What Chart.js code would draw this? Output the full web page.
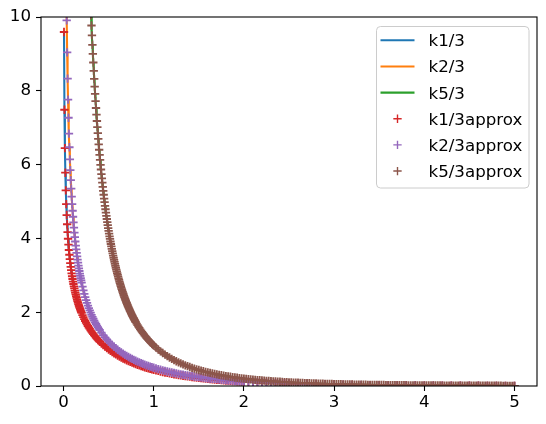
<!DOCTYPE html>
<html><head><meta charset="utf-8">
<script src="https://cdn.jsdelivr.net/npm/chart.js@4.4.1/dist/chart.umd.min.js"></script>
<style>html,body{margin:0;padding:0;background:#fff;}canvas{display:block;}</style>
</head><body>
<canvas id="c" width="546" height="424" style="width:546px;height:424px"></canvas>
<script>
const xTicks = [0, 1, 2, 3, 4, 5];
const yTicks = [0, 2, 4, 6, 8, 10];
const labels = ['k1/3', 'k2/3', 'k5/3', 'k1/3approx', 'k2/3approx', 'k5/3approx'];

// sample positions for k1/3 and k2/3
const xA = [0.005,0.01,0.015,0.02,0.025,0.03,0.035,0.04,0.045,0.05,0.055,0.06,0.065,0.07,0.075,0.08,0.085,0.09,0.095,0.1,
0.105,0.11,0.115,0.12,0.125,0.13,0.135,0.14,0.145,0.15,0.155,0.16,0.165,0.17,0.175,0.18,0.185,0.19,0.195,0.2,
0.21,0.22,0.23,0.24,0.25,0.26,0.27,0.28,0.29,0.3,0.31,0.32,0.33,0.34,0.35,0.36,0.37,0.38,0.39,0.4,
0.42,0.44,0.46,0.48,0.5,0.52,0.54,0.56,0.58,0.6,0.62,0.64,0.66,0.68,0.7,0.72,0.74,0.76,0.78,0.8,0.82,0.84,0.86,0.88,0.9,0.92,0.94,0.96,0.98,
1.0,1.025,1.05,1.075,1.1,1.125,1.15,1.175,1.2,1.225,1.25,1.275,1.3,1.325,1.35,1.375,1.4,1.425,1.45,1.475,
1.5,1.525,1.55,1.575,1.6,1.625,1.65,1.675,1.7,1.725,1.75,1.775,1.8,1.825,1.85,1.875,1.9,1.925,1.95,1.975,2.0,
2.05,2.1,2.15,2.2,2.25,2.3,2.35,2.4,2.45,2.5,
2.6,2.7,2.8,2.9,3.0,3.1,3.2,3.3,3.4,3.5,3.6,3.7,3.8,3.9,4.0,4.1,4.2,4.3,4.4,4.5,4.6,4.7,4.8,4.9,5.0];

const k13 = [9.593,7.486,6.446,5.780,5.301,4.931,4.633,4.384,4.171,3.991,3.830,3.686,3.557,3.439,3.330,3.231,3.140,3.054,2.974,2.900,
2.830,2.764,2.702,2.643,2.587,2.533,2.483,2.434,2.388,2.343,2.300,2.259,2.220,2.182,2.145,2.110,2.076,2.042,2.010,1.979,
1.920,1.864,1.812,1.762,1.714,1.669,1.626,1.585,1.546,1.509,1.473,1.438,1.405,1.373,1.343,1.313,1.284,1.257,1.230,1.206,
1.157,1.111,1.068,1.028,0.989,0.953,0.919,0.886,0.855,0.825,0.797,0.770,0.745,0.720,0.697,0.674,0.653,0.632,0.613,0.593,0.575,0.558,0.541,0.525,0.509,0.494,0.479,0.466,0.452,
0.438,0.423,0.408,0.394,0.380,0.367,0.354,0.342,0.330,0.319,0.308,0.298,0.288,0.278,0.269,0.260,0.252,0.243,0.235,0.228,
0.220,0.212,0.206,0.199,0.193,0.187,0.181,0.175,0.170,0.164,0.159,0.154,0.150,0.145,0.141,0.136,0.132,0.128,0.124,0.120,0.117,
0.109,0.103,0.097,0.091,0.086,0.081,0.076,0.072,0.067,0.064,
0.056,0.050,0.045,0.040,0.035,0.031,0.028,0.025,0.022,0.020,0.018,0.016,0.014,0.013,0.011,0.010,0.009,0.008,0.007,0.0065,0.0058,0.0052,0.0046,0.0042,0.0037];

const k23 = [36.72,23.10,17.60,14.50,12.46,11.01,9.91,9.04,8.33,7.76,7.27,6.84,6.47,6.14,5.85,5.58,5.35,5.13,4.93,4.75,
4.587,4.433,4.290,4.157,4.033,3.916,3.806,3.703,3.606,3.513,3.426,3.342,3.264,3.188,3.117,3.048,2.983,2.920,2.860,2.802,
2.693,2.592,2.498,2.411,2.329,2.252,2.180,2.112,2.048,1.987,1.929,1.874,1.822,1.773,1.725,1.680,1.637,1.595,1.555,1.517,
1.446,1.379,1.317,1.260,1.206,1.156,1.109,1.064,1.022,0.983,0.946,0.910,0.877,0.845,0.815,0.786,0.759,0.733,0.708,0.684,0.661,0.640,0.619,0.599,0.579,0.561,0.544,0.527,0.510,
0.495,0.476,0.458,0.441,0.425,0.409,0.394,0.380,0.366,0.353,0.341,0.329,0.317,0.306,0.295,0.285,0.276,0.266,0.257,0.249,
0.240,0.233,0.226,0.218,0.211,0.204,0.197,0.191,0.185,0.179,0.173,0.167,0.162,0.157,0.152,0.147,0.142,0.138,0.133,0.129,0.125,
0.117,0.110,0.104,0.097,0.091,0.086,0.081,0.076,0.072,0.067,
0.060,0.053,0.047,0.042,0.037,0.033,0.029,0.026,0.023,0.021,0.0185,0.0165,0.0147,0.0132,0.0117,0.0105,0.0094,0.0084,0.0075,0.0067,0.0060,0.0054,0.0048,0.0043,0.0038];

// sample positions for k5/3
const xB = [0.27,0.275,0.28,0.285,0.29,0.295,0.3,0.305,0.31,0.315,0.32,0.325,0.33,0.335,0.34,0.345,0.35,0.355,0.36,0.365,0.37,0.375,0.38,0.385,0.39,0.395,0.4,0.405,0.41,0.415,0.42,0.425,0.43,0.435,0.44,0.445,0.45,0.455,0.46,0.465,0.47,0.475,0.48,0.485,0.49,0.495,
0.5,0.505,0.51,0.515,0.52,0.525,0.53,0.535,0.54,0.545,0.55,0.555,0.56,0.565,0.57,0.575,0.58,0.585,0.59,0.595,
0.6,0.605,0.61,0.615,0.62,0.625,0.63,0.635,0.64,0.645,0.65,0.655,0.66,0.665,0.67,0.675,0.68,0.685,0.69,0.695,
0.7,0.705,0.71,0.715,0.72,0.725,0.73,0.735,0.74,0.745,0.75,0.755,0.76,0.765,0.77,0.775,0.78,0.785,0.79,0.795,
0.8,0.81,0.82,0.83,0.84,0.85,0.86,0.87,0.88,0.89,0.9,0.91,0.92,0.93,0.94,0.95,0.96,0.97,0.98,0.99,
1.0,1.025,1.05,1.075,1.1,1.125,1.15,1.175,1.2,1.225,1.25,1.275,1.3,1.325,1.35,1.375,1.4,1.425,1.45,1.475,
1.5,1.525,1.55,1.575,1.6,1.625,1.65,1.675,1.7,1.725,1.75,1.775,1.8,1.825,1.85,1.875,1.9,1.925,1.95,1.975,
2.0,2.025,2.05,2.075,2.1,2.125,2.15,2.175,2.2,2.225,2.25,2.275,2.3,2.325,2.35,2.375,2.4,2.425,2.45,2.475,
2.5,2.525,2.55,2.575,2.6,2.625,2.65,2.675,2.7,2.725,2.75,2.775,2.8,2.825,2.85,2.875,2.9,2.925,2.95,2.975,
3.0,3.025,3.05,3.075,3.1,3.125,3.15,3.175,3.2,3.225,3.25,3.275,3.3,3.325,3.35,3.375,3.4,3.425,3.45,3.475,
3.5,3.525,3.55,3.575,3.6,3.625,3.65,3.675,3.7,3.725,3.75,3.775,3.8,3.825,3.85,3.875,3.9,3.925,3.95,3.975,
4.0,4.025,4.05,4.075,4.1,4.125,4.15,4.175,4.2,4.225,4.25,4.275,4.3,4.325,4.35,4.375,4.4,4.425,4.45,4.475,
4.5,4.525,4.55,4.575,4.6,4.625,4.65,4.675,4.7,4.725,4.75,4.775,4.8,4.825,4.85,4.875,4.9,4.925,4.95,4.975,5.0];

const k53 = [12.391,12.008,11.642,11.293,10.960,10.642,10.338,10.048,9.770,9.503,9.247,9.002,8.767,8.541,8.324,8.115,7.914,7.721,7.534,7.354,7.182,7.015,6.854,6.698,6.548,6.402,6.262,6.126,5.995,5.867,5.744,5.625,5.509,5.397,5.288,5.183,5.080,4.981,4.884,4.790,4.699,4.611,4.526,4.441,4.359,4.280,
4.203,4.130,4.057,3.986,3.916,3.848,3.782,3.718,3.656,3.594,3.534,3.476,3.419,3.364,3.310,3.257,3.205,3.154,3.105,3.057,
3.009,2.963,2.918,2.874,2.831,2.788,2.747,2.706,2.667,2.628,2.590,2.552,2.516,2.480,2.445,2.411,2.377,2.344,2.311,2.280,
2.249,2.218,2.188,2.159,2.130,2.101,2.074,2.046,2.020,1.993,1.967,1.942,1.918,1.893,1.868,1.845,1.822,1.799,1.776,1.754,
1.733,1.691,1.650,1.611,1.573,1.535,1.500,1.465,1.432,1.399,1.367,1.337,1.307,1.278,1.250,1.223,1.197,1.171,1.146,1.122,
1.098,1.042,0.989,0.940,0.894,0.851,0.811,0.773,0.737,0.703,0.671,0.641,0.613,0.586,0.561,0.537,0.514,0.492,0.472,0.452,
0.434,0.416,0.399,0.383,0.368,0.354,0.340,0.327,0.314,0.302,0.291,0.280,0.269,0.259,0.250,0.240,0.231,0.223,0.215,0.207,
0.1995,0.1922,0.185,0.1788,0.173,0.1665,0.161,0.1551,0.150,0.1446,0.140,0.1349,0.131,0.1259,0.122,0.1176,0.114,0.1099,0.106,0.1027,
0.099,0.0960,0.093,0.0898,0.087,0.0841,0.081,0.0787,0.076,0.0737,0.071,0.0691,0.067,0.0647,0.063,0.0607,0.059,0.0569,0.055,0.0534,
0.052,0.0501,0.049,0.0471,0.046,0.0442,0.043,0.0415,0.040,0.0390,0.038,0.0366,0.0355,0.0344,0.0334,0.0324,0.0314,0.0304,0.0295,0.0286,
0.0278,0.0269,0.0261,0.0253,0.0246,0.0238,0.0231,0.0224,0.0218,0.0211,0.0205,0.0199,0.0193,0.0187,0.0182,0.0176,0.0171,0.0166,0.0161,0.0157,
0.0152,0.0148,0.0143,0.0139,0.0135,0.0131,0.0127,0.0124,0.0120,0.0117,0.0113,0.0110,0.0107,0.0104,0.0101,0.0098,0.0095,0.0092,0.0090,0.0087,
0.0085,0.0082,0.0080,0.0077,0.0075,0.0073,0.0071,0.0069,0.0067,0.0065,0.0063,0.0062,0.0060,0.0058,0.0056,0.0055,0.0053,0.0052,0.0050,0.0049,0.0047];

const colors = ['#1f77b4', '#ff7f0e', '#2ca02c', '#d62728', '#9467bd', '#8c564b'];
const FONT = 'DejaVu Sans';
const FS = 16.67;

function pts(xs, ys) { return xs.map((x, i) => ({ x: x, y: ys[i] })); }

function lineDs(i, xs, ys) {
  return { label: labels[i], data: pts(xs, ys), showLine: true, borderColor: colors[i], backgroundColor: colors[i],
    borderWidth: 2.08, pointRadius: 0, pointHoverRadius: 0, tension: 0, clip: 0, order: 5 - i, kind: 'line' };
}
function markDs(i, xs, ys) {
  return { label: labels[i], data: pts(xs, ys), showLine: false, pointStyle: 'cross', pointRadius: 4.17, pointHoverRadius: 4.17,
    pointBorderWidth: 1.8, pointBorderColor: colors[i], pointBackgroundColor: colors[i], borderColor: colors[i],
    backgroundColor: colors[i], clip: 0, order: 5 - i, kind: 'mark' };
}

const framePlugin = {
  id: 'frame',
  afterDatasetsDraw(chart) {
    const a = chart.chartArea, ctx = chart.ctx;
    ctx.save();
    ctx.strokeStyle = '#000';
    ctx.lineWidth = 1.1;
    ctx.strokeRect(a.left, a.top, a.right - a.left, a.bottom - a.top);
    ctx.restore();
  }
};

const legendPlugin = {
  id: 'mplLegend',
  afterDraw(chart) {
    const ctx = chart.ctx;
    const x0 = 376.5, y0 = 26.5, w = 152.5, h = 161.5, r = 4;
    ctx.save();
    ctx.beginPath();
    ctx.moveTo(x0 + r, y0);
    ctx.lineTo(x0 + w - r, y0); ctx.arcTo(x0 + w, y0, x0 + w, y0 + r, r);
    ctx.lineTo(x0 + w, y0 + h - r); ctx.arcTo(x0 + w, y0 + h, x0 + w - r, y0 + h, r);
    ctx.lineTo(x0 + r, y0 + h); ctx.arcTo(x0, y0 + h, x0, y0 + h - r, r);
    ctx.lineTo(x0, y0 + r); ctx.arcTo(x0, y0, x0 + r, y0, r);
    ctx.closePath();
    ctx.globalAlpha = 0.8; ctx.fillStyle = '#ffffff'; ctx.fill();
    ctx.globalAlpha = 1; ctx.strokeStyle = '#cccccc'; ctx.lineWidth = 1; ctx.stroke();
    chart.data.datasets.forEach((ds, i) => {
      const cy = 40.3 + i * 26.15;
      ctx.beginPath();
      if (ds.kind === 'line') {
        ctx.strokeStyle = ds.borderColor; ctx.lineWidth = 2.08;
        ctx.moveTo(380.5, cy); ctx.lineTo(414.5, cy);
      } else {
        ctx.strokeStyle = ds.pointBorderColor; ctx.lineWidth = 1.39;
        const cx = 397.5, rr = 4.17;
        ctx.moveTo(cx - rr, cy); ctx.lineTo(cx + rr, cy);
        ctx.moveTo(cx, cy - rr); ctx.lineTo(cx, cy + rr);
      }
      ctx.stroke();
      ctx.fillStyle = '#000';
      ctx.font = FS + 'px "' + FONT + '"';
      ctx.textBaseline = 'alphabetic';
      ctx.textAlign = 'left';
      ctx.fillText(ds.label, 428.5, cy + 6);
    });
    ctx.restore();
  }
};

const gridOpts = { display: true, drawOnChartArea: false, drawTicks: true, tickLength: 5, tickWidth: 1.1, tickColor: '#000' };

new Chart(document.getElementById('c'), {
  type: 'scatter',
  data: {
    datasets: [
      lineDs(0, xA, k13), lineDs(1, xA, k23), lineDs(2, xB, k53),
      markDs(3, xA, k13), markDs(4, xA, k23), markDs(5, xB, k53)
    ]
  },
  options: {
    responsive: false,
    animation: false,
    events: [],
    layout: { padding: { left: 0, right: 9, top: 17, bottom: 0 } },
    plugins: { legend: { display: false }, tooltip: { enabled: false } },
    scales: {
      x: {
        type: 'linear', min: -0.25, max: 5.25,
        afterBuildTicks: s => { s.ticks = xTicks.map(v => ({ value: v })); },
        afterFit: s => { s.height = 38; },
        ticks: { font: { family: FONT, size: FS }, color: '#000', padding: 2, maxRotation: 0, autoSkip: false, callback: v => String(v) },
        grid: gridOpts,
        border: { display: false }
      },
      y: {
        type: 'linear', min: 0, max: 10,
        afterBuildTicks: s => { s.ticks = yTicks.map(v => ({ value: v })); },
        afterFit: s => { s.width = 41; },
        ticks: { font: { family: FONT, size: FS }, color: '#000', padding: 5, autoSkip: false, callback: v => String(v) },
        grid: gridOpts,
        border: { display: false }
      }
    }
  },
  plugins: [framePlugin, legendPlugin]
});
</script>
</body></html>
